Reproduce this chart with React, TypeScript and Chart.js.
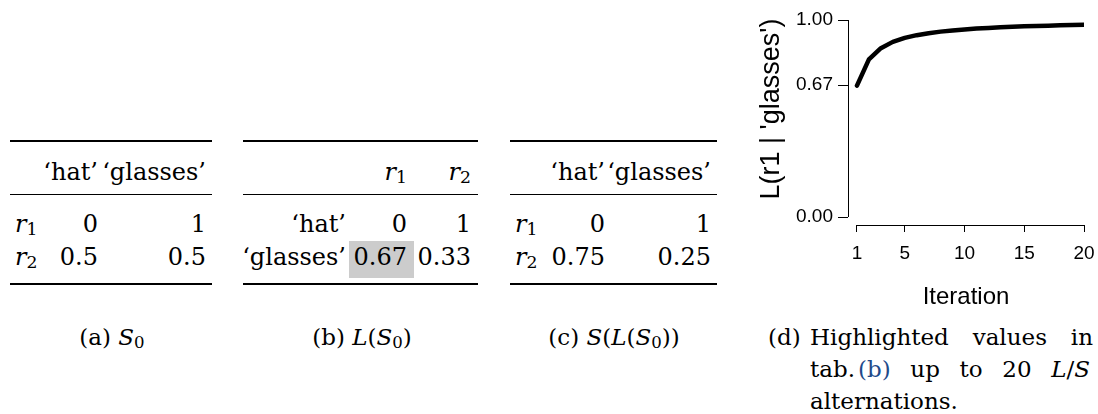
import React, { useEffect, useRef } from "react";
import { Chart, registerables } from "chart.js";

Chart.register(...registerables);

// ---------- Chart data ----------
const iterations = [1, 2, 3, 4, 5, 6, 7, 8, 9, 10, 11, 12, 13, 14, 15, 16, 17, 18, 19, 20];
const highlightedValues = [
  0.667, 0.8, 0.857, 0.889, 0.909, 0.923, 0.933, 0.941, 0.947, 0.952,
  0.957, 0.96, 0.963, 0.966, 0.968, 0.97, 0.971, 0.973, 0.974, 0.976,
];
const xTickValues = [1, 5, 10, 15, 20];
const yTickValues = [0, 0.67, 1];
const xAxisTitle = "Iteration";
const yAxisTitle = "L(r1 | 'glasses')";

// ---------- Table data ----------
const utterances = ["\u2018hat\u2019", "\u2018glasses\u2019"];
const referentSubs = ["1", "2"];
const s0Table = [
  ["0", "1"],
  ["0.5", "0.5"],
];
const lS0Table = [
  ["0", "1"],
  ["0.67", "0.33"],
];
const sLS0Table = [
  ["0", "1"],
  ["0.75", "0.25"],
];

// ---------- Styles ----------
const SERIF = '"DejaVu Serif", "Liberation Serif", serif';
const SANS = '"Liberation Sans", Arial, Helvetica, sans-serif';
const TABLE_SIZE = 24;
const CAPTION_SIZE = 23;
const BLUE = "#1f4a8a";

type TProps = {
  x: number;
  y: number;
  size?: number;
  align?: "left" | "right" | "center";
  width?: number;
  justify?: boolean;
  children?: React.ReactNode;
};

function T({ x, y, size = TABLE_SIZE, align = "left", width, justify, children }: TProps) {
  const tx = align === "right" ? "translateX(-100%)" : align === "center" ? "translateX(-50%)" : "none";
  return (
    <div
      style={{
        position: "absolute",
        left: x,
        top: y - 0.846 * size,
        fontSize: size,
        lineHeight: `${size}px`,
        fontFamily: SERIF,
        whiteSpace: "nowrap",
        transform: tx,
        color: "#000",
        width: width,
        textAlign: justify ? "justify" : undefined,
        textAlignLast: justify ? "justify" : undefined,
      } as React.CSSProperties}
    >
      {children}
    </div>
  );
}

function Sub({ base, sub }: { base: string; sub: string }) {
  return (
    <span>
      <i>{base}</i>
      <span style={{ fontSize: "0.72em", position: "relative", top: "0.22em" }}>{sub}</span>
    </span>
  );
}

function Rule({ x0, x1, y, h }: { x0: number; x1: number; y: number; h: number }) {
  return <div style={{ position: "absolute", left: x0, top: y, width: x1 - x0, height: h, background: "#000" }} />;
}

const RULE_TOP = 140;
const RULE_MID = 194;
const RULE_BOT = 283;
const BASE_HEAD = 180;
const BASE_ROWS = [232, 265];

function Frame({ x0, x1 }: { x0: number; x1: number }) {
  return (
    <>
      <Rule x0={x0} x1={x1} y={RULE_TOP} h={2} />
      <Rule x0={x0} x1={x1} y={RULE_MID} h={1.2} />
      <Rule x0={x0} x1={x1} y={RULE_BOT} h={2} />
    </>
  );
}

function SpeakerTable({ x0, x1, labelX, cols, values }: { x0: number; x1: number; labelX: number; cols: number[]; values: string[][] }) {
  return (
    <>
      <Frame x0={x0} x1={x1} />
      {utterances.map((u, j) => (
        <T key={"h" + j} x={cols[j]} y={BASE_HEAD} align="right">{u}</T>
      ))}
      {values.map((row, i) => (
        <React.Fragment key={"r" + i}>
          <T x={labelX} y={BASE_ROWS[i]}><Sub base="r" sub={referentSubs[i]} /></T>
          {row.map((v, j) => (
            <T key={j} x={cols[j]} y={BASE_ROWS[i]} align="right">{v}</T>
          ))}
        </React.Fragment>
      ))}
    </>
  );
}

function ListenerTable({ x0, x1, labelRight, cols, values }: { x0: number; x1: number; labelRight: number; cols: number[]; values: string[][] }) {
  return (
    <>
      <div style={{ position: "absolute", left: 349, top: 241, width: 65, height: 37, background: "#cccccc" }} />
      <Frame x0={x0} x1={x1} />
      {referentSubs.map((s, j) => (
        <T key={"h" + j} x={cols[j]} y={BASE_HEAD} align="right"><Sub base="r" sub={s} /></T>
      ))}
      {values.map((row, i) => (
        <React.Fragment key={"r" + i}>
          <T x={labelRight} y={BASE_ROWS[i]} align="right">{utterances[i]}</T>
          {row.map((v, j) => (
            <T key={j} x={cols[j]} y={BASE_ROWS[i]} align="right">{v}</T>
          ))}
        </React.Fragment>
      ))}
    </>
  );
}

function LineChart() {
  const ref = useRef<HTMLCanvasElement>(null);
  useEffect(() => {
    if (!ref.current) return;
    const rAxes = {
      id: "rAxes",
      afterDraw(chart: any) {
        const { ctx, chartArea, scales } = chart;
        const x = scales.x;
        const y = scales.y;
        ctx.save();
        ctx.strokeStyle = "#000";
        ctx.lineWidth = 1;
        const xl = Math.round(chartArea.left) + 0.5;
        const yb = Math.round(chartArea.bottom) + 0.5;
        ctx.beginPath();
        ctx.moveTo(xl, y.getPixelForValue(yTickValues[0]));
        ctx.lineTo(xl, y.getPixelForValue(yTickValues[yTickValues.length - 1]));
        ctx.moveTo(x.getPixelForValue(xTickValues[0]), yb);
        ctx.lineTo(x.getPixelForValue(xTickValues[xTickValues.length - 1]), yb);
        ctx.stroke();
        ctx.translate(32, 109);
        ctx.rotate(-Math.PI / 2);
        ctx.fillStyle = "#000";
        ctx.font = `27px ${SANS}`;
        ctx.textAlign = "center";
        ctx.textBaseline = "middle";
        ctx.fillText(yAxisTitle, 0, 0);
        ctx.restore();
      },
    };
    const chart = new Chart(ref.current, {
      type: "line",
      data: {
        datasets: [
          {
            data: iterations.map((it, i) => ({ x: it, y: highlightedValues[i] })),
            borderColor: "#000",
            borderWidth: 4.5,
            pointRadius: 0,
            tension: 0,
            borderCapStyle: "round",
            borderJoinStyle: "round",
            fill: false,
          },
        ],
      },
      options: {
        animation: false,
        responsive: false,
        devicePixelRatio: 1,
        layout: { padding: { left: 0, right: 22, top: 20, bottom: 0 } },
        plugins: { legend: { display: false }, tooltip: { enabled: false }, title: { display: false } },
        scales: {
          x: {
            type: "linear",
            min: 0.25,
            max: 20,
            afterBuildTicks: (s: any) => {
              s.ticks = xTickValues.map((v) => ({ value: v }));
            },
            afterFit: (s: any) => {
              s.height = 95;
            },
            grid: { display: true, drawOnChartArea: false, drawTicks: true, tickLength: 7, color: "#000", lineWidth: 1 },
            border: { display: false },
            ticks: {
              color: "#000",
              font: { family: SANS, size: 19 },
              padding: 10,
              maxRotation: 0,
              autoSkip: false,
              callback: (v: any) => String(v),
            },
            title: {
              display: true,
              text: xAxisTitle,
              color: "#000",
              font: { family: SANS, size: 24 },
              padding: { top: 0, bottom: 8 },
            },
          },
          y: {
            type: "linear",
            min: -0.0406,
            max: 1,
            afterBuildTicks: (s: any) => {
              s.ticks = yTickValues.map((v) => ({ value: v }));
            },
            afterFit: (s: any) => {
              s.width = 108;
            },
            grid: { display: true, drawOnChartArea: false, drawTicks: true, tickLength: 10, color: "#000", lineWidth: 1 },
            border: { display: false },
            ticks: {
              color: "#000",
              font: { family: SANS, size: 19 },
              padding: 5,
              autoSkip: false,
              callback: (v: any) => Number(v).toFixed(2),
            },
          },
        },
      },
      plugins: [rAxes],
    } as any);
    return () => chart.destroy();
  }, []);
  return (
    <canvas
      ref={ref}
      width={366}
      height={320}
      style={{ position: "absolute", left: 740, top: 0, width: 366, height: 320, display: "block" }}
    />
  );
}

export default function App() {
  return (
    <div style={{ position: "relative", width: 1098, height: 414, background: "#fff", overflow: "hidden" }}>
      <style>{`body{margin:0;background:#fff}`}</style>

      <SpeakerTable x0={10} x1={212} labelX={15} cols={[98, 206]} values={s0Table} />
      <ListenerTable x0={243} x1={478} labelRight={346} cols={[407, 471]} values={lS0Table} />
      <SpeakerTable x0={510} x1={717} labelX={515} cols={[605, 711]} values={sLS0Table} />

      <T x={112} y={345} size={CAPTION_SIZE} align="center">
        (a) <Sub base="S" sub="0" />
      </T>
      <T x={362} y={345} size={CAPTION_SIZE} align="center">
        (b) <i>L</i>(<Sub base="S" sub="0" />)
      </T>
      <T x={614} y={345} size={CAPTION_SIZE} align="center">
        (c) <i>S</i>(<i>L</i>(<Sub base="S" sub="0" />))
      </T>

      <T x={768} y={345} size={CAPTION_SIZE}>(d)</T>
      <T x={810} y={345} size={CAPTION_SIZE} width={283} justify>
        Highlighted values in
      </T>
      <T x={810} y={377} size={CAPTION_SIZE} width={280} justify>
        tab.<span style={{ marginLeft: 3, color: BLUE }}>(b)</span> up to 20 <i>L</i>/<i>S</i>
      </T>
      <T x={810} y={409} size={CAPTION_SIZE}>
        alternations.
      </T>

      <LineChart />
    </div>
  );
}
